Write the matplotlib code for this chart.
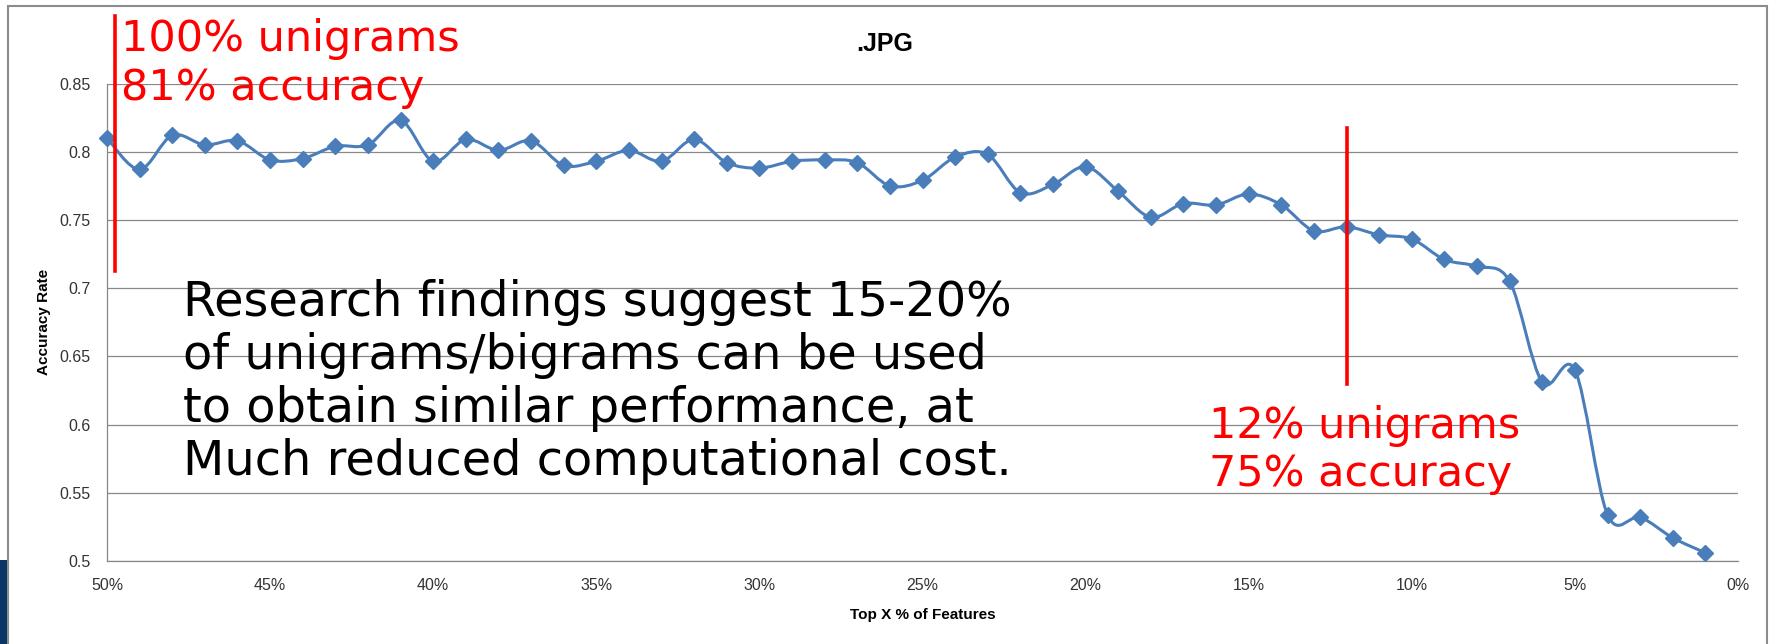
import numpy as np
import matplotlib.pyplot as plt
from matplotlib.path import Path
from matplotlib.patches import PathPatch, Rectangle

# top X % of features kept vs. classifier accuracy
top_pct = [50, 49, 48, 47, 46, 45, 44, 43, 42, 41,
           40, 39, 38, 37, 36, 35, 34, 33, 32, 31,
           30, 29, 28, 27, 26, 25, 24, 23, 22, 21,
           20, 19, 18, 17, 16, 15, 14, 13, 12, 11,
           10, 9, 8, 7, 6, 5, 4, 3, 2, 1]
accuracy = [0.810, 0.787, 0.812, 0.805, 0.808, 0.794, 0.795, 0.804, 0.805, 0.823,
            0.793, 0.809, 0.801, 0.808, 0.790, 0.793, 0.801, 0.793, 0.809, 0.792,
            0.788, 0.793, 0.794, 0.792, 0.775, 0.779, 0.796, 0.798, 0.770, 0.776,
            0.789, 0.771, 0.752, 0.762, 0.761, 0.769, 0.761, 0.742, 0.745, 0.739,
            0.736, 0.721, 0.716, 0.705, 0.631, 0.640, 0.534, 0.532, 0.517, 0.506]

x_ticks = [50, 45, 40, 35, 30, 25, 20, 15, 10, 5, 0]
y_ticks = [0.5, 0.55, 0.6, 0.65, 0.7, 0.75, 0.8, 0.85]
y_tick_labels = ['0.5', '0.55', '0.6', '0.65', '0.7', '0.75', '0.8', '0.85']

# vertical markers: (x, y_bottom, y_top)
marker_full = (49.75, 0.7125, 0.8995)
marker_cut = (12, 0.630, 0.8177)

note_full = ['100% unigrams', '81% accuracy']
note_cut = ['12% unigrams', '75% accuracy']
summary = ['Research findings suggest 15-20%',
           'of unigrams/bigrams can be used',
           'to obtain similar performance, at',
           'Much reduced computational cost.']

BLUE = '#4A7EBB'
GRID = '#888888'
RED = '#FF0000'
W, H = 1770, 644
CHART_FONT = 'Liberation Sans'
SLIDE_FONT = 'DejaVu Sans'


def smooth_path(xs, ys):
    """Catmull-Rom style cubic Bezier through the points (like a smoothed line)."""
    pts = np.column_stack([xs, ys]).astype(float)
    n = len(pts)
    verts = [pts[0]]
    codes = [Path.MOVETO]
    for i in range(n - 1):
        p0 = pts[max(i - 1, 0)]
        p1 = pts[i]
        p2 = pts[i + 1]
        p3 = pts[min(i + 2, n - 1)]
        c1 = p1 + (p2 - p0) / 6.0
        c2 = p2 - (p3 - p1) / 6.0
        verts += [c1, c2, p2]
        codes += [Path.CURVE4] * 3
    return Path(verts, codes)


fig = plt.figure(figsize=(W / 100, H / 100), dpi=100)
fig.patch.set_facecolor('white')

# outer chart frame and the dark strip on the left edge
fig.patches.append(Rectangle((8 / W, -0.2), (1767 - 8) / W, 1.2 - 6 / H,
                             transform=fig.transFigure, fill=False,
                             edgecolor='#8c8c8c', lw=1.5))
fig.patches.append(Rectangle((0, 0), 7 / W, (H - 560) / H,
                             transform=fig.transFigure, color='#0a3567', lw=0))

ax = fig.add_axes([107 / W, 1 - 561 / H, (1738 - 107) / W, (561 - 83.5) / H])
ax.set_xlim(50, 0)
ax.set_ylim(0.5, 0.85)

for sp in ['top', 'right']:
    ax.spines[sp].set_visible(False)
for sp in ['left', 'bottom']:
    ax.spines[sp].set_color(GRID)
    ax.spines[sp].set_linewidth(0.9)

ax.set_yticks(y_ticks)
ax.set_yticklabels(y_tick_labels)
ax.set_xticks(x_ticks)
ax.set_xticklabels([f'{v}%' for v in x_ticks])
ax.tick_params(axis='both', length=0, labelsize=11.5, labelcolor='#333333')
ax.tick_params(axis='y', pad=12)
ax.tick_params(axis='x', pad=12)
for lab in ax.get_xticklabels() + ax.get_yticklabels():
    lab.set_family(CHART_FONT)
ax.yaxis.grid(True, color=GRID, lw=0.9)
ax.set_axisbelow(True)

ax.set_xlabel('Top X % of Features', fontsize=11, fontweight='bold',
              family=CHART_FONT, labelpad=11)
ax.set_ylabel('Accuracy Rate', fontsize=11, fontweight='bold',
              family=CHART_FONT, labelpad=6)

# smoothed series line plus diamond markers
ax.add_patch(PathPatch(smooth_path(top_pct, accuracy), fill=False,
                       edgecolor=BLUE, lw=2.2, zorder=3, clip_on=False))
ax.plot(top_pct, accuracy, linestyle='none', marker='D', markersize=8.5,
        color=BLUE, zorder=4, clip_on=False)

fig.text(0.5, 1 - 44 / H, '.JPG', ha='center', va='center',
         fontsize=18, fontweight='bold', family=CHART_FONT)

# red reference lines
for mx, y0, y1 in [marker_full, marker_cut]:
    ax.plot([mx, mx], [y0, y1], color=RED, lw=2.6, zorder=5, clip_on=False)

for i, line in enumerate(note_full):
    fig.text(121 / W, 1 - (39.5 + i * 48.5) / H, line, color=RED,
             ha='left', va='center', fontsize=31, family=SLIDE_FONT)
for i, line in enumerate(note_cut):
    fig.text(1209 / W, 1 - (425.6 + i * 48.5) / H, line, color=RED,
             ha='left', va='center', fontsize=31, family=SLIDE_FONT)
for i, line in enumerate(summary):
    fig.text(183 / W, 1 - (302.5 + i * 53) / H, line, color='black',
             ha='left', va='center', fontsize=34.5, family=SLIDE_FONT)

fig.savefig('out.png', dpi=100)
